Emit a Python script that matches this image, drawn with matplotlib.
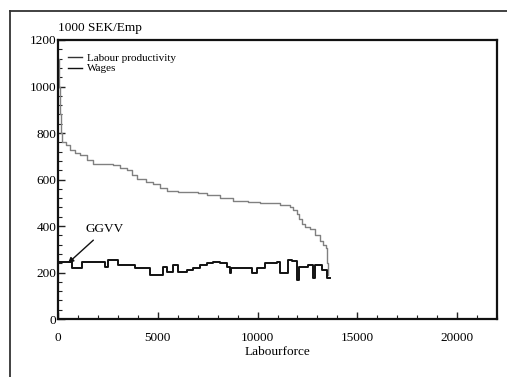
import numpy as np
import matplotlib.pyplot as plt
from matplotlib.lines import Line2D
from matplotlib.ticker import MultipleLocator

plt.rcParams['font.family'] = ['Liberation Serif', 'DejaVu Serif']

# labour productivity, step curve (labourforce, 1000 SEK/Emp)
prod_x = [0, 30, 80, 130, 185, 400, 600, 850, 1100, 1450, 1770, 2300, 2760,
          3100, 3440, 3700, 3940, 4400, 4760, 5100, 5450, 6000, 6450, 7000,
          7450, 8100, 8770, 9500, 10120, 10620, 11100, 11620, 11800, 11960,
          12100, 12210, 12400, 12620, 12900, 13130, 13300, 13430, 13480, 13520]
prod_y = [1120, 1000, 880, 800, 760, 748, 726, 715, 704, 685, 668, 665, 661,
          650, 639, 620, 603, 590, 582, 565, 552, 548, 545, 540,
          535, 522, 509, 505, 501, 497, 490, 480, 468, 451,
          430, 407, 395, 386, 360, 335, 320, 306, 240, 190]

# wages, step curve
wage_x = [0, 690, 1190, 2350, 2520, 3020, 3860, 4610, 5280, 5450, 5780, 6030,
          6450, 6780, 7110, 7450, 7780, 8120, 8450, 8600, 8650, 9700, 9950,
          10370, 10960, 11120, 11540, 11710, 11990, 12080, 12540, 12790, 12870,
          13210, 13460, 13620]
wage_y = [245, 218, 246, 225, 254, 232, 218, 189, 225, 203, 232, 203,
          211, 218, 232, 240, 246, 240, 225, 200, 218, 197, 218,
          240, 246, 197, 254, 250, 168, 225, 232, 175, 232,
          211, 175, 175]

fig = plt.figure(figsize=(5.07, 3.77), dpi=100)
ax = fig.add_axes([0.1144, 0.1538, 0.8659, 0.7401])

ax.step(prod_x, prod_y, where='post', color='#808080', lw=1.0)
ax.step(wage_x, wage_y, where='post', color='#111111', lw=1.4)

ax.set_xlim(0, 22000)
ax.set_ylim(0, 1200)
ax.xaxis.set_major_locator(MultipleLocator(5000))
ax.xaxis.set_minor_locator(MultipleLocator(1000))
ax.yaxis.set_major_locator(MultipleLocator(200))
ax.yaxis.set_minor_locator(MultipleLocator(40))
ax.tick_params(which='both', direction='in', top=False, right=False,
               labelsize=9.5, color='#222222')
ax.tick_params(which='major', length=5, width=1)
ax.tick_params(which='minor', length=3, width=0.8)
ax.tick_params(axis='y', pad=1)
ax.tick_params(axis='x', pad=9)
for s in ax.spines.values():
    s.set_linewidth(1.6)
    s.set_color('#111111')

ax.set_xlabel('Labourforce', fontsize=9.5, labelpad=2)
ax.text(0, 1225, '1000 SEK/Emp', fontsize=9.5, ha='left', va='bottom')

handles = [Line2D([], [], color='#333333', lw=1.0),
           Line2D([], [], color='#111111', lw=1.0)]
ax.legend(handles, ['Labour productivity', 'Wages'], loc='upper left',
          frameon=False, fontsize=8, handlelength=1.3, handletextpad=0.4,
          labelspacing=0.05, borderaxespad=0.3, bbox_to_anchor=(0.005, 0.98))

ax.annotate('GGVV', xy=(500, 240), xytext=(1400, 385), fontsize=9.5,
            ha='left', va='center',
            arrowprops=dict(arrowstyle='-|>', color='#111111', lw=1.0,
                            shrinkA=2, shrinkB=0, mutation_scale=8))

# outer frame of the scanned page
fig.add_artist(Line2D([0.02, 0.02], [0.0, 0.972], transform=fig.transFigure,
                      color='#333333', lw=1.3))
fig.add_artist(Line2D([0.02, 1.0], [0.972, 0.972], transform=fig.transFigure,
                      color='#333333', lw=1.3))

fig.savefig('out.png', dpi=100)
